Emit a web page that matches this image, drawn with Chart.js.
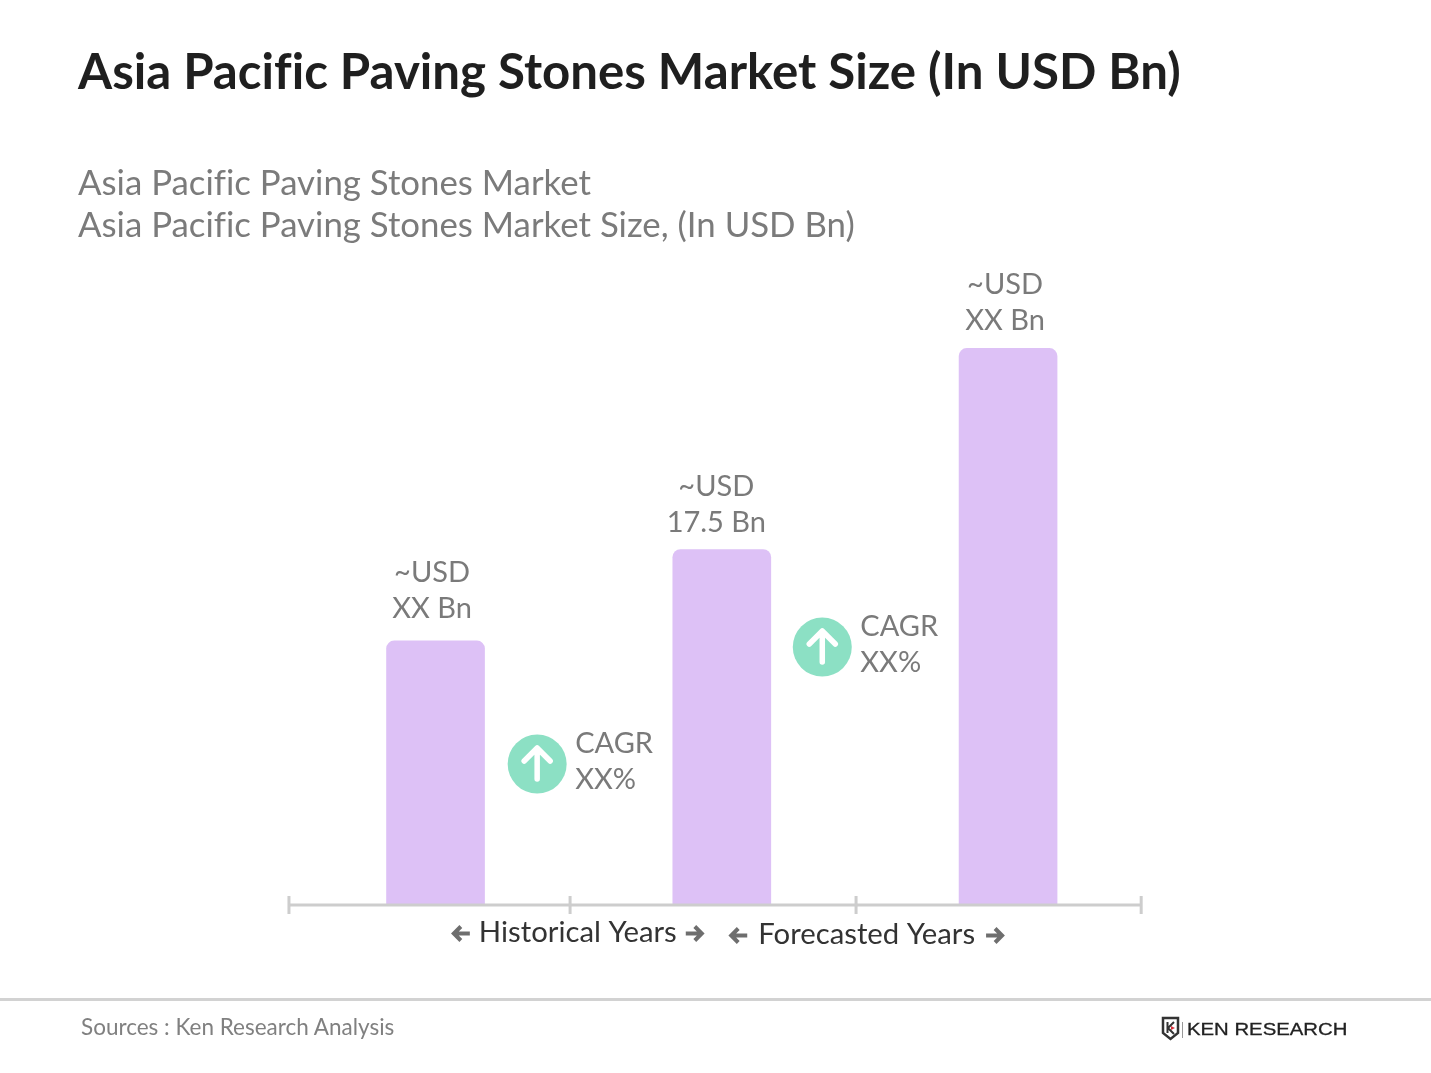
<!DOCTYPE html>
<html>
<head>
<meta charset="utf-8">
<title>Asia Pacific Paving Stones Market Size</title>
<script src="https://cdn.jsdelivr.net/npm/chart.js@4"></script>
<style>
    html, body { margin: 0; padding: 0; background: #fff; overflow: hidden; }
    body { width: 1431px; height: 1073px; position: relative; font-family: Lato, sans-serif; font-variant-ligatures: none; }
    canvas { position: absolute; left: 0; top: 0; }
    .title { position: absolute; left: 78px; top: 40px; font-size: 49.2px; line-height: 60px; font-weight: 700; color: #1f1f1f; white-space: nowrap; }
    .subtitle { position: absolute; left: 78px; top: 161px; font-size: 34.8px; line-height: 42px; color: #7b7b7b; white-space: nowrap; }
    .rule { position: absolute; left: 0; top: 998px; width: 1431px; height: 3px; background: #d2d2d2; }
    .sources { position: absolute; left: 81px; top: 1013px; font-size: 22.5px; line-height: 28px; color: #808080; white-space: nowrap; }
    .logo { position: absolute; left: 1161px; top: 1016px; width: 190px; height: 26px; }
    .logo svg { position: absolute; left: 0; top: 0; }
    .logo span { position: absolute; left: 26px; top: 4px; font: 17px/20px "Liberation Sans", sans-serif; color: #222; -webkit-text-stroke: 0.3px #222; white-space: nowrap; transform-origin: left center; transform: scaleX(1.195); }
</style>
</head>
<body>
<canvas id="chart" width="1431" height="1073"></canvas>
<div class="title">Asia Pacific Paving Stones Market Size (In USD Bn)</div>
<div class="subtitle">Asia Pacific Paving Stones Market<br>Asia Pacific Paving Stones Market Size, (In USD Bn)</div>
<div class="rule"></div>
<div class="sources">Sources : Ken Research Analysis</div>
<div class="logo">
    <svg width="26" height="26" viewBox="0 0 26 26">
        <path d="M2 2 H17 V17 L9.500 23 L2 17 Z" fill="none" stroke="#333" stroke-width="2.500"/>
        <path d="M6.500 6 V17 M7 12 L13 6 M7 12 L13 18" fill="none" stroke="#333" stroke-width="2"/>
        <path d="M10 10 L14 12 L10 14 Z" fill="#d8323c"/>
        <path d="M21 6 H22 V22 H21 Z" fill="#999"/>
    </svg>
    <span>KEN RESEARCH</span>
</div>

<script>
const categories = ['Start of historical period', 'Base year', 'End of forecast period'];
const marketSize = [13, 17.5, 27.4];
const barLabels = [['~USD', 'XX Bn'], ['~USD', '17.5 Bn'], ['~USD', 'XX Bn']];

// axis divisions, in category units
const axisTicks = [-0.512, 0.47, 1.469, 2.465];
const periodLabels = ['Historical Years', 'Forecasted Years'];
const periodCentres = [0.497, 1.506];

// CAGR badges, placed on the chart's own scales
const cagrX = [0.355, 1.351];
const cagrY = [6.94, 12.7];
const cagrLabels = [['CAGR', 'XX%'], ['CAGR', 'XX%']];

const annotations = {
    id: 'annotations',
    afterDraw(chart) {
        const { ctx, scales: { x, y } } = chart;
        ctx.save();

        // axis line and dividers
        ctx.strokeStyle = '#cdcdcd';
        ctx.lineWidth = 3;
        ctx.beginPath();
        ctx.moveTo(x.getPixelForValue(axisTicks[0]), y.getPixelForValue(0));
        ctx.lineTo(x.getPixelForValue(axisTicks[3]), y.getPixelForValue(0));
        ctx.stroke();
        axisTicks.forEach(tick => {
            const px = x.getPixelForValue(tick);
            ctx.beginPath();
            ctx.moveTo(px, y.getPixelForValue(0) - 9);
            ctx.lineTo(px, y.getPixelForValue(0) + 9);
            ctx.stroke();
        });

        // labels over the bars
        const bars = chart.getDatasetMeta(0).data;
        const labelDx = [-3.5, -5.5, -3];
        const labelDy = [32, 27, 28];
        ctx.font = '29px Lato';
        ctx.fillStyle = '#7a7a7a';
        ctx.textAlign = 'center';
        ctx.textBaseline = 'middle';
        bars.forEach((bar, i) => {
            ctx.fillText(barLabels[i][0], bar.x + labelDx[i], bar.y - labelDy[i] - 36);
            ctx.fillText(barLabels[i][1], bar.x + labelDx[i], bar.y - labelDy[i]);
        });

        // CAGR badges
        cagrX.forEach((value, i) => {
            const cx = x.getPixelForValue(value);
            const cy = y.getPixelForValue(cagrY[i]);
            ctx.fillStyle = '#8ce0c4';
            ctx.beginPath();
            ctx.arc(cx, cy, 29.5, 0, Math.PI * 2);
            ctx.fill();
            ctx.strokeStyle = '#fff';
            ctx.lineWidth = 5.5;
            ctx.lineCap = 'round';
            ctx.lineJoin = 'round';
            ctx.beginPath();
            ctx.moveTo(cx, cy + 15);
            ctx.lineTo(cx, cy - 15);
            ctx.moveTo(cx - 13, cy - 3);
            ctx.lineTo(cx, cy - 16);
            ctx.lineTo(cx + 13, cy - 3);
            ctx.stroke();
            ctx.fillStyle = '#7a7a7a';
            ctx.textAlign = 'left';
            ctx.fillText(cagrLabels[i][0], cx + 38, cy - 20.5);
            ctx.fillText(cagrLabels[i][1], cx + 38, cy + 15.5);
        });

        // period captions with arrows
        const arrow = (px, py, dir) => {
            ctx.strokeStyle = '#6e6e6e';
            ctx.lineWidth = 4;
            ctx.lineCap = 'butt';
            ctx.lineJoin = 'miter';
            ctx.beginPath();
            ctx.moveTo(px - dir * 9, py);
            ctx.lineTo(px + dir * 7, py);
            ctx.moveTo(px + dir * 0, py - 7);
            ctx.lineTo(px + dir * 7, py);
            ctx.lineTo(px + dir * 0, py + 7);
            ctx.stroke();
        };
        ctx.font = '29.3px Lato';
        ctx.textAlign = 'center';
        periodLabels.forEach((label, i) => {
            const px = x.getPixelForValue(periodCentres[i]);
            const py = y.getPixelForValue(0) + 27.5 + i * 2;
            ctx.fillStyle = '#333';
            ctx.fillText(label, px, py);
            const half = ctx.measureText(label).width / 2;
            arrow(px - half - 18 - i * 2, py + 1, -1);
            arrow(px + half + 18 + i * 2, py + 1, 1);
        });

        ctx.restore();
    }
};

new Chart(document.getElementById('chart'), {
    type: 'bar',
    data: {
        labels: categories,
        datasets: [{
            data: marketSize,
            backgroundColor: '#ddc1f6',
            barThickness: 98,
            borderRadius: { topLeft: 8, topRight: 8, bottomLeft: 0, bottomRight: 0 },
            borderSkipped: 'bottom'
        }]
    },
    options: {
        responsive: false,
        animation: false,
        layout: { padding: { left: 292.4, right: 279.8, top: 295.6, bottom: 168 } },
        plugins: { legend: { display: false }, tooltip: { enabled: false } },
        scales: {
            x: { display: false },
            y: { display: false, min: 0, max: 30 }
        }
    },
    plugins: [annotations]
});
</script>
</body>
</html>
